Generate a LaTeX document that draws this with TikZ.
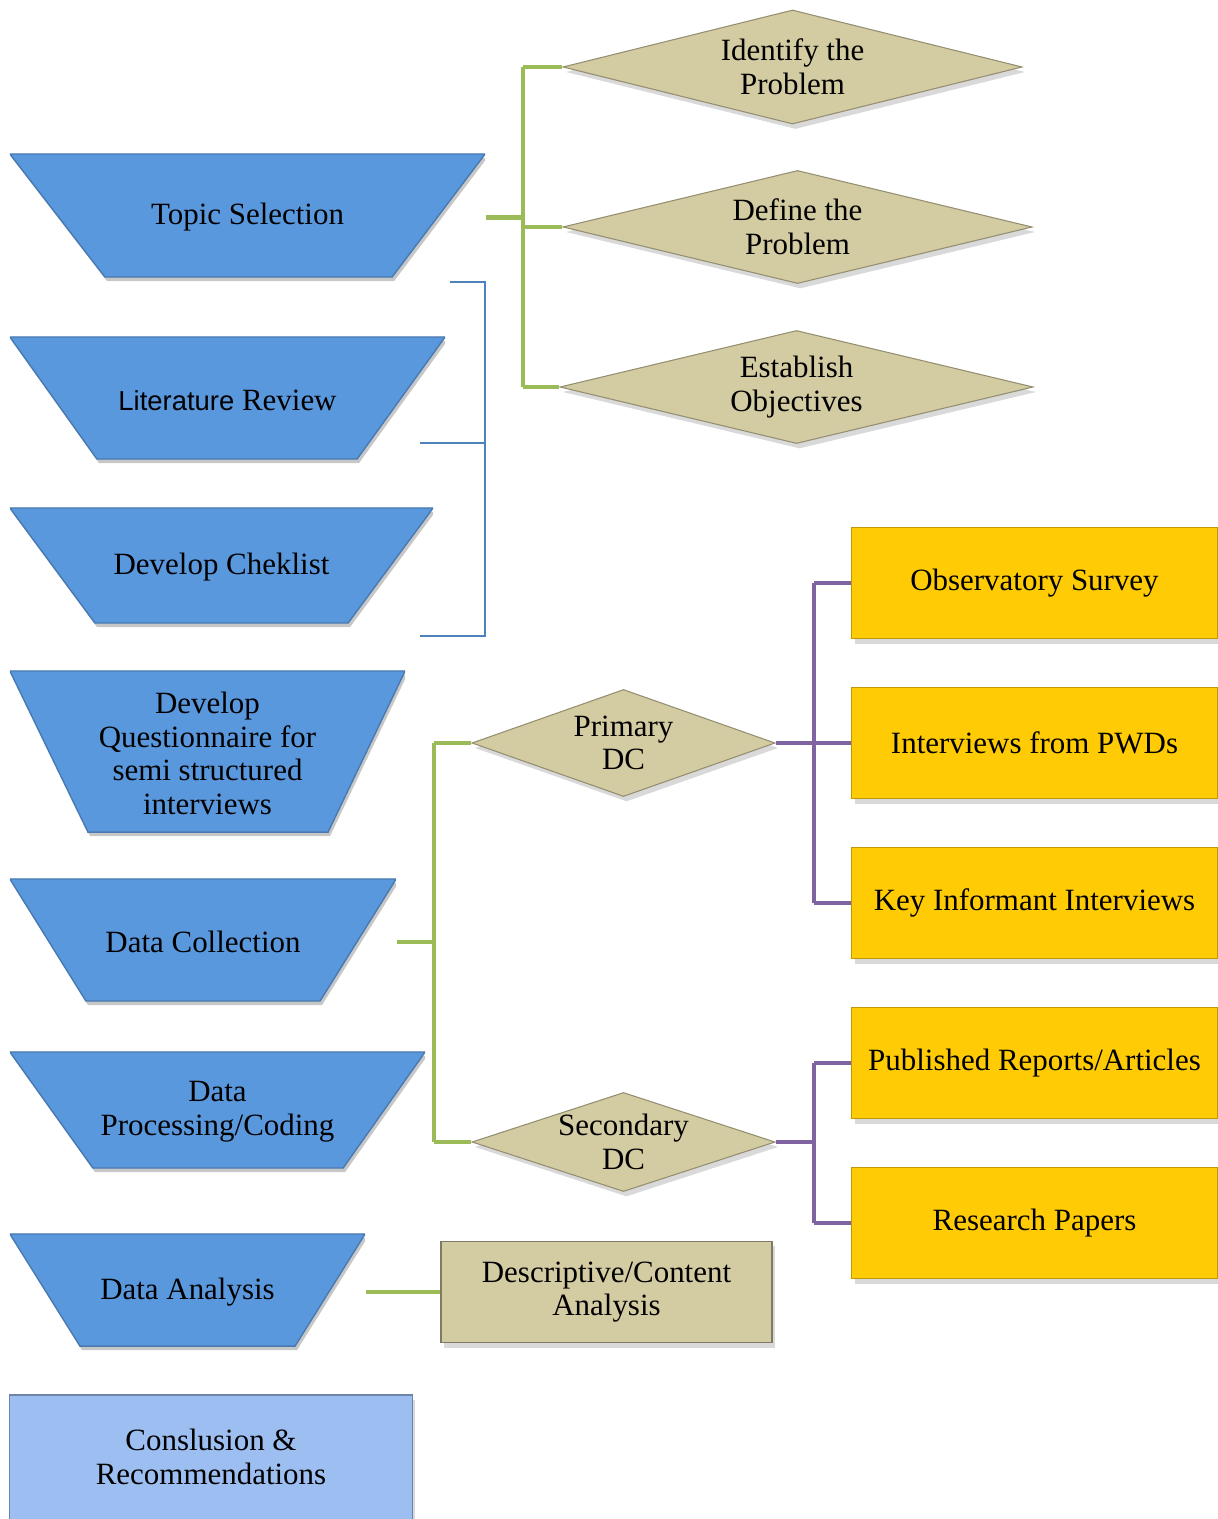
\documentclass[tikz,border=0pt]{standalone}
\usepackage{fontspec}
\setmainfont{Liberation Serif}
\newfontfamily\litfont{Liberation Sans}
\usepackage{xcolor}
\usepackage{tikz}
\usetikzlibrary{positioning,shapes.geometric,shadows}

\definecolor{stageblue}{RGB}{90,152,222}
\definecolor{paleblue}{RGB}{156,190,240}
\definecolor{khaki}{RGB}{211,203,161}
\definecolor{gold}{RGB}{255,203,5}
\definecolor{linkgreen}{RGB}{155,187,89}
\definecolor{linkpurple}{RGB}{128,100,162}
\definecolor{bracketblue}{RGB}{79,129,189}

\tikzset{every node/.style={font=\fontsize{8.8}{9.6}\selectfont}}

\begin{document}
\begin{tikzpicture}[
  x=0.01cm, y=-0.01cm,
  softshadow/.style={drop shadow={opacity=0.3, shadow xshift=0.03cm, shadow yshift=-0.05cm}},
  stage/.style 2 args={
    rectangle,
    inner sep=0pt,
    align=center,
    path picture={
      \path (path picture bounding box.north west) coordinate (tl)
            (path picture bounding box.north east) coordinate (tr)
            ([yshift=0.04cm]path picture bounding box.south west) coordinate (bl)
            ([yshift=0.04cm]path picture bounding box.south east) coordinate (br);
      \fill[black!22] ([shift={(0.02cm,-0.04cm)}]tl) -- ([shift={(0.02cm,-0.04cm)}]tr)
        -- ([shift={(-#2+0.02cm,-0.04cm)}]br) -- ([shift={(#1+0.02cm,-0.04cm)}]bl) -- cycle;
      \fill[stageblue] (tl) -- (tr) -- ([xshift=-#2]br) -- ([xshift=#1]bl) -- cycle;
      \draw[stageblue!80!black, line width=0.4pt] (tl) -- (tr) -- ([xshift=-#2]br) -- ([xshift=#1]bl) -- cycle;
    }
  },
  decision/.style={
    diamond,
    aspect=#1,
    fill=khaki,
    draw=khaki!70!black,
    line width=0.3pt,
    inner sep=-3pt,
    align=center,
    softshadow
  },
  source/.style={
    rectangle,
    fill=gold,
    draw=gold!75!black,
    line width=0.3pt,
    minimum width=3.65cm,
    minimum height=1.11cm,
    align=center,
    softshadow
  },
  glink/.style={draw=linkgreen, line width=1.2pt},
  plink/.style={draw=linkpurple, line width=1.2pt},
  bracket/.style={draw=bracketblue, line width=0.5pt}
]

\useasboundingbox (0,0) rectangle (1217,1519);

% left column of stages
\node (topic) [stage={0.95cm}{0.93cm}, minimum width=4.75cm, minimum height=1.27cm] at (247.5,217.5)
{Topic Selection};

\node (litrev) [stage={0.87cm}{0.88cm}, minimum width=4.35cm, minimum height=1.26cm] at (227.5,400)
{{\litfont\fontsize{7.8}{9.6}\selectfont Literature} Review};

\node (check) [stage={0.85cm}{0.85cm}, minimum width=4.23cm, minimum height=1.19cm] at (221.5,567.5)
{Develop Cheklist};

\node (quest) [stage={0.78cm}{0.77cm}, minimum width=3.95cm, minimum height=1.65cm] at (207.5,753.5)
{Develop\\Questionnaire for\\semi structured\\interviews};

\node (collect) [stage={0.76cm}{0.76cm}, minimum width=3.86cm, minimum height=1.26cm] at (203,942)
{Data Collection};

\node (process) [stage={0.83cm}{0.82cm}, minimum width=4.15cm, minimum height=1.20cm] at (217.5,1112)
{Data\\Processing/Coding};

\node (analysis) [stage={0.70cm}{0.70cm}, minimum width=3.55cm, minimum height=1.16cm] at (187.5,1292)
{Data Analysis};

\node (concl) [rectangle, fill=paleblue, draw=paleblue!70!black, line width=0.3pt,
  minimum width=4.02cm, minimum height=1.24cm, align=center, softshadow] at (211,1457)
{Conslusion \&\\Recommendations};

% problem diamonds
\node (ident) [decision=4, minimum width=4.59cm, minimum height=1.14cm] at (792.5,67)
{Identify the\\Problem};

\node (define) [decision=4, minimum width=4.69cm, minimum height=1.13cm] at (797.5,227)
{Define the\\Problem};

\node (estab) [decision=4, minimum width=4.73cm, minimum height=1.13cm] at (796.5,387)
{Establish\\Objectives};

% data collection diamonds
\node (primary) [decision=2.8, minimum width=3.03cm, minimum height=1.07cm] at (623.5,743)
{Primary\\DC};

\node (second) [decision=3, minimum width=3.03cm, minimum height=0.99cm] at (623.5,1142)
{Secondary\\DC};

% sources
\node (observ) [source] at (1034.5,583) {Observatory Survey};
\node (pwd) [source] at (1034.5,743) {Interviews from PWDs};
\node (keyinf) [source] at (1034.5,903) {Key Informant Interviews};
\node (publish) [source] at (1034.5,1063) {Published Reports/Articles};
\node (papers) [source] at (1034.5,1223) {Research Papers};

\node (descr) [rectangle, fill=khaki, draw=khaki!60!black, line width=0.5pt,
  minimum width=3.31cm, minimum height=1.01cm, align=center, softshadow] at (606.5,1292)
{Descriptive/Content\\Analysis};

% junctions
\coordinate (tj) at (523,217.5);
\coordinate (cj) at (434,942);
\coordinate (pj) at (814,743);
\coordinate (sj) at (814,1142);

% green links
\draw[glink] (topic.east) -- (topic.east -| tj);
\draw[glink] (ident.west -| tj) -- (estab.west -| tj);
\draw[glink] (ident.west -| tj) -- (ident.west);
\draw[glink] (define.west -| tj) -- (define.west);
\draw[glink] (estab.west -| tj) -- (estab.west);

\draw[glink] (collect.east) -- (collect.east -| cj);
\draw[glink] (primary.west -| cj) -- (second.west -| cj);
\draw[glink] (primary.west -| cj) -- (primary.west);
\draw[glink] (second.west -| cj) -- (second.west);

\draw[glink] (analysis.east) -- (descr.west);

% purple links
\draw[plink] (primary.east) -- (pj);
\draw[plink] (observ.west -| pj) -- (keyinf.west -| pj);
\draw[plink] (observ.west -| pj) -- (observ.west);
\draw[plink] (pj) -- (pwd.west);
\draw[plink] (keyinf.west -| pj) -- (keyinf.west);

\draw[plink] (second.east) -- (sj);
\draw[plink] (publish.west -| sj) -- (papers.west -| sj);
\draw[plink] (publish.west -| sj) -- (publish.west);
\draw[plink] (papers.west -| sj) -- (papers.west);

% bracket
\coordinate (bt) at (450,282);
\coordinate (bm) at (420,443);
\coordinate (bb) at (420,636);
\draw[bracket] (bt) -- (485,282) -- (485,636) -- (bb);
\draw[bracket] (bm) -- (485,443);

\end{tikzpicture}
\end{document}
